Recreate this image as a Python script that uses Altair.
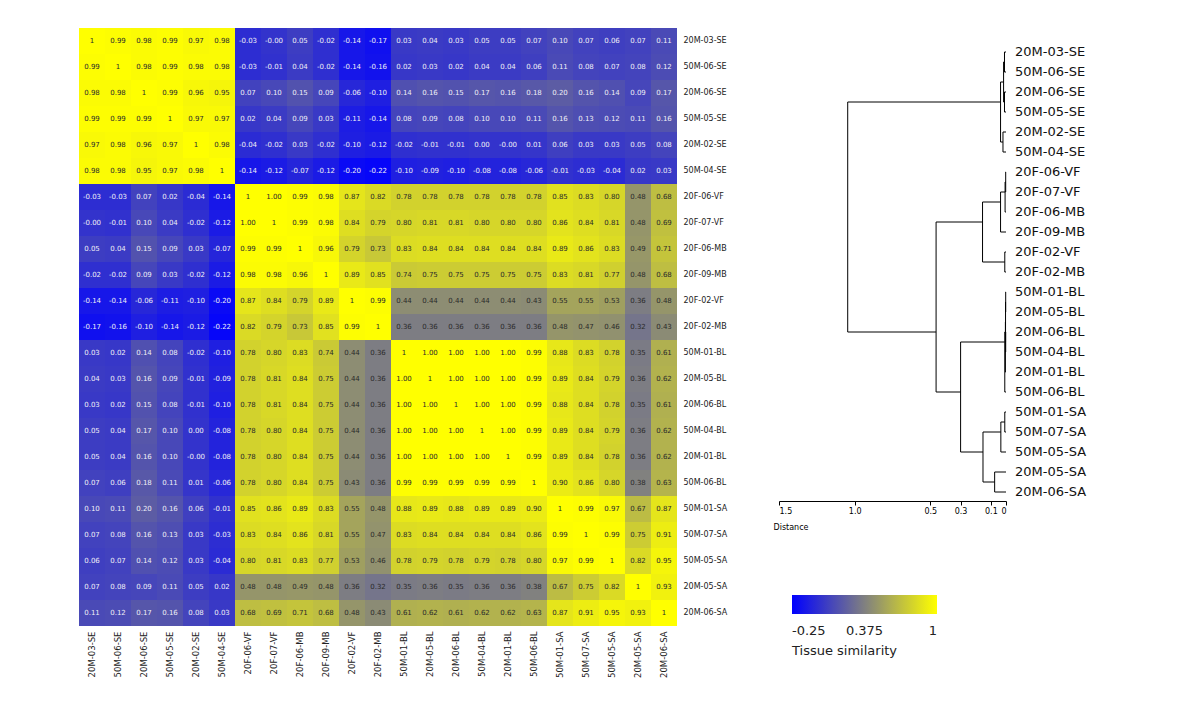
import altair as alt
import pandas as pd

labels = ["20M-03-SE", "50M-06-SE", "20M-06-SE", "50M-05-SE", "20M-02-SE", "50M-04-SE",
          "20F-06-VF", "20F-07-VF", "20F-06-MB", "20F-09-MB", "20F-02-VF", "20F-02-MB",
          "50M-01-BL", "20M-05-BL", "20M-06-BL", "50M-04-BL", "20M-01-BL", "50M-06-BL",
          "50M-01-SA", "50M-07-SA", "50M-05-SA", "20M-05-SA", "20M-06-SA"]

sim = [
    [1, 0.99, 0.98, 0.99, 0.97, 0.98, -0.03, -0.0, 0.05, -0.02, -0.14, -0.17, 0.03, 0.04, 0.03, 0.05, 0.05, 0.07, 0.10, 0.07, 0.06, 0.07, 0.11],
    [0.99, 1, 0.98, 0.99, 0.98, 0.98, -0.03, -0.01, 0.04, -0.02, -0.14, -0.16, 0.02, 0.03, 0.02, 0.04, 0.04, 0.06, 0.11, 0.08, 0.07, 0.08, 0.12],
    [0.98, 0.98, 1, 0.99, 0.96, 0.95, 0.07, 0.10, 0.15, 0.09, -0.06, -0.10, 0.14, 0.16, 0.15, 0.17, 0.16, 0.18, 0.20, 0.16, 0.14, 0.09, 0.17],
    [0.99, 0.99, 0.99, 1, 0.97, 0.97, 0.02, 0.04, 0.09, 0.03, -0.11, -0.14, 0.08, 0.09, 0.08, 0.10, 0.10, 0.11, 0.16, 0.13, 0.12, 0.11, 0.16],
    [0.97, 0.98, 0.96, 0.97, 1, 0.98, -0.04, -0.02, 0.03, -0.02, -0.10, -0.12, -0.02, -0.01, -0.01, 0.00, -0.0, 0.01, 0.06, 0.03, 0.03, 0.05, 0.08],
    [0.98, 0.98, 0.95, 0.97, 0.98, 1, -0.14, -0.12, -0.07, -0.12, -0.20, -0.22, -0.10, -0.09, -0.10, -0.08, -0.08, -0.06, -0.01, -0.03, -0.04, 0.02, 0.03],
    [-0.03, -0.03, 0.07, 0.02, -0.04, -0.14, 1, 1.00, 0.99, 0.98, 0.87, 0.82, 0.78, 0.78, 0.78, 0.78, 0.78, 0.78, 0.85, 0.83, 0.80, 0.48, 0.68],
    [-0.0, -0.01, 0.10, 0.04, -0.02, -0.12, 1.00, 1, 0.99, 0.98, 0.84, 0.79, 0.80, 0.81, 0.81, 0.80, 0.80, 0.80, 0.86, 0.84, 0.81, 0.48, 0.69],
    [0.05, 0.04, 0.15, 0.09, 0.03, -0.07, 0.99, 0.99, 1, 0.96, 0.79, 0.73, 0.83, 0.84, 0.84, 0.84, 0.84, 0.84, 0.89, 0.86, 0.83, 0.49, 0.71],
    [-0.02, -0.02, 0.09, 0.03, -0.02, -0.12, 0.98, 0.98, 0.96, 1, 0.89, 0.85, 0.74, 0.75, 0.75, 0.75, 0.75, 0.75, 0.83, 0.81, 0.77, 0.48, 0.68],
    [-0.14, -0.14, -0.06, -0.11, -0.10, -0.20, 0.87, 0.84, 0.79, 0.89, 1, 0.99, 0.44, 0.44, 0.44, 0.44, 0.44, 0.43, 0.55, 0.55, 0.53, 0.36, 0.48],
    [-0.17, -0.16, -0.10, -0.14, -0.12, -0.22, 0.82, 0.79, 0.73, 0.85, 0.99, 1, 0.36, 0.36, 0.36, 0.36, 0.36, 0.36, 0.48, 0.47, 0.46, 0.32, 0.43],
    [0.03, 0.02, 0.14, 0.08, -0.02, -0.10, 0.78, 0.80, 0.83, 0.74, 0.44, 0.36, 1, 1.00, 1.00, 1.00, 1.00, 0.99, 0.88, 0.83, 0.78, 0.35, 0.61],
    [0.04, 0.03, 0.16, 0.09, -0.01, -0.09, 0.78, 0.81, 0.84, 0.75, 0.44, 0.36, 1.00, 1, 1.00, 1.00, 1.00, 0.99, 0.89, 0.84, 0.79, 0.36, 0.62],
    [0.03, 0.02, 0.15, 0.08, -0.01, -0.10, 0.78, 0.81, 0.84, 0.75, 0.44, 0.36, 1.00, 1.00, 1, 1.00, 1.00, 0.99, 0.88, 0.84, 0.78, 0.35, 0.61],
    [0.05, 0.04, 0.17, 0.10, 0.00, -0.08, 0.78, 0.80, 0.84, 0.75, 0.44, 0.36, 1.00, 1.00, 1.00, 1, 1.00, 0.99, 0.89, 0.84, 0.79, 0.36, 0.62],
    [0.05, 0.04, 0.16, 0.10, -0.0, -0.08, 0.78, 0.80, 0.84, 0.75, 0.44, 0.36, 1.00, 1.00, 1.00, 1.00, 1, 0.99, 0.89, 0.84, 0.78, 0.36, 0.62],
    [0.07, 0.06, 0.18, 0.11, 0.01, -0.06, 0.78, 0.80, 0.84, 0.75, 0.43, 0.36, 0.99, 0.99, 0.99, 0.99, 0.99, 1, 0.90, 0.86, 0.80, 0.38, 0.63],
    [0.10, 0.11, 0.20, 0.16, 0.06, -0.01, 0.85, 0.86, 0.89, 0.83, 0.55, 0.48, 0.88, 0.89, 0.88, 0.89, 0.89, 0.90, 1, 0.99, 0.97, 0.67, 0.87],
    [0.07, 0.08, 0.16, 0.13, 0.03, -0.03, 0.83, 0.84, 0.86, 0.81, 0.55, 0.47, 0.83, 0.84, 0.84, 0.84, 0.84, 0.86, 0.99, 1, 0.99, 0.75, 0.91],
    [0.06, 0.07, 0.14, 0.12, 0.03, -0.04, 0.80, 0.81, 0.83, 0.77, 0.53, 0.46, 0.78, 0.79, 0.78, 0.79, 0.78, 0.80, 0.97, 0.99, 1, 0.82, 0.95],
    [0.07, 0.08, 0.09, 0.11, 0.05, 0.02, 0.48, 0.48, 0.49, 0.48, 0.36, 0.32, 0.35, 0.36, 0.35, 0.36, 0.36, 0.38, 0.67, 0.75, 0.82, 1, 0.93],
    [0.11, 0.12, 0.17, 0.16, 0.08, 0.03, 0.68, 0.69, 0.71, 0.68, 0.48, 0.43, 0.61, 0.62, 0.61, 0.62, 0.62, 0.63, 0.87, 0.91, 0.95, 0.93, 1],
]

# dendrogram merges: (child_a, child_b, distance); ids < 23 are leaves, 23+ are clusters in order
merges = [
    (0, 1, 0.010), (2, 3, 0.010), (23, 24, 0.016), (4, 5, 0.020), (25, 26, 0.036),
    (6, 7, 0.002), (28, 8, 0.006), (29, 9, 0.036), (10, 11, 0.008), (30, 31, 0.155),
    (12, 13, 0.002), (14, 15, 0.002), (33, 34, 0.003), (35, 16, 0.004), (36, 17, 0.008),
    (18, 19, 0.008), (38, 20, 0.034), (21, 22, 0.075), (39, 40, 0.152),
    (37, 41, 0.300), (32, 42, 0.462), (27, 43, 1.046),
]
dist_ticks = [1.5, 1.0, 0.5, 0.3, 0.1, 0]
legend_values = [-0.25, 0.375, 1]
color_stops = [-0.25, 0.375, 1]
color_range = ["#0000ff", "#808080", "#ffff00"]

# ---- heatmap table
recs = []
for i, rl in enumerate(labels):
    for j, cl in enumerate(labels):
        v = sim[i][j]
        recs.append({"row": rl, "col": cl, "v": v, "lab": "1" if i == j else f"{v:.2f}"})
hdf = pd.DataFrame(recs)

# ---- dendrogram segments
n = len(labels)
leafsets = {k: [k] for k in range(n)}
height = {k: 0.0 for k in range(n)}
segs = []
for m, (a, b, h) in enumerate(merges):
    nid = n + m
    leafsets[nid] = leafsets[a] + leafsets[b]
    height[nid] = h
    ya = sum(leafsets[a]) / len(leafsets[a])
    yb = sum(leafsets[b]) / len(leafsets[b])
    segs.append({"x": h, "x2": h, "y": ya, "y2": yb})
    segs.append({"x": height[a], "x2": h, "y": ya, "y2": ya})
    segs.append({"x": height[b], "x2": h, "y": yb, "y2": yb})
sdf = pd.DataFrame(segs)
ldf = pd.DataFrame({"x": [0.0] * n, "y": list(range(n)), "name": labels})

# ---- heatmap chart
base = alt.Chart(hdf).encode(
    x=alt.X("col:N", sort=labels, scale=alt.Scale(paddingInner=0, paddingOuter=0),
            axis=alt.Axis(orient="bottom", labelAngle=-90, ticks=False, domain=False,
                          labelFontSize=8.5, labelPadding=5, labelColor="#222", title=None)),
    y=alt.Y("row:N", sort=labels, scale=alt.Scale(paddingInner=0, paddingOuter=0),
            axis=alt.Axis(orient="right", ticks=False, domain=False, labelFontSize=8,
                          labelPadding=6, labelColor="#222", title=None)),
)
rect = base.mark_rect().encode(
    color=alt.Color("v:Q",
                    scale=alt.Scale(domain=color_stops, range=color_range, interpolate="rgb"),
                    legend=alt.Legend(type="gradient", orient="none", legendX=713, legendY=567,
                                      direction="horizontal",
                                      gradientLength=145, gradientThickness=19, gradientStrokeWidth=0,
                                      title="Tissue similarity", titleOrient="bottom", titleFontSize=13,
                                      titleFontWeight="normal", titleColor="#222", titlePadding=7,
                                      labelFontSize=13, labelColor="#222", labelOffset=11,
                                      values=legend_values,
                                      labelExpr="replace(datum.value == 1 ? '1' : format(datum.value, '.3~f'), '\u2212', '-')")),
)
text = base.mark_text(fontSize=7).encode(
    text="lab:N",
    color=alt.condition(alt.datum.v < 0.3, alt.value("#eeeef6"), alt.value("#2a2a2a")),
)
heat = alt.layer(rect, text).properties(width=598, height=598)

# ---- dendrogram chart
xsc = alt.Scale(domain=[0, 1.5], reverse=True, nice=False, zero=False)
ysc = alt.Scale(domain=[-1.2, 22.45], reverse=True, nice=False, zero=False)
rules = alt.Chart(sdf).mark_rule(color="black", strokeWidth=1).encode(
    x=alt.X("x:Q", scale=xsc,
            axis=alt.Axis(values=dist_ticks, grid=False, tickSize=4, tickColor="black",
                          domainColor="black", labelFontSize=8, labelColor="black", labelPadding=2,
                          labelExpr="datum.value == 0 ? '0' : format(datum.value, '.1f')",
                          title="Distance", titleFontSize=8, titleFontWeight="normal",
                          titleColor="black", titleAlign="left", titleX=-6, titleY=26,
                          titleBaseline="middle")),
    x2="x2:Q",
    y=alt.Y("y:Q", scale=ysc, axis=None),
    y2="y2:Q",
)
leaves = alt.Chart(ldf).mark_text(align="left", baseline="middle", dx=9, fontSize=13, color="#111").encode(
    x=alt.X("x:Q", scale=xsc),
    y=alt.Y("y:Q", scale=ysc, axis=None),
    text="name:N",
)
dend = alt.layer(rules, leaves).properties(width=227, height=473)

chart = alt.hconcat(heat, dend, spacing=102, bounds="flush").properties(
    padding={"left": 71, "top": 20, "right": 5, "bottom": 5}
).configure(font="DejaVu Sans", view=alt.ViewConfig(stroke=None))

chart.save("out.html", embed_options={"renderer": "svg", "actions": False})
